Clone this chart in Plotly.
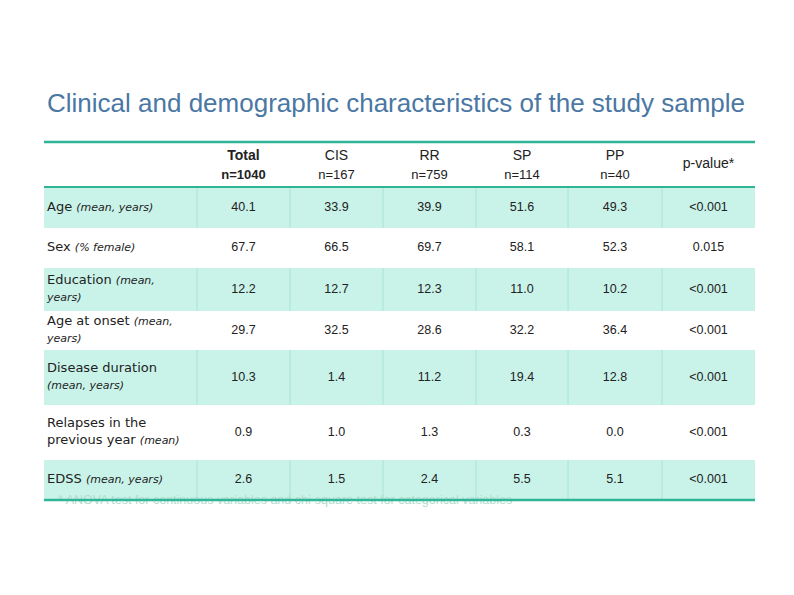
import plotly.graph_objects as go

# Table content
title = "Clinical and demographic characteristics of the study sample"
groups = ["Total", "CIS", "RR", "SP", "PP"]
group_n = ["n=1040", "n=167", "n=759", "n=114", "n=40"]
p_header = "p-value*"

row_names = ["Age", "Sex", "Education", "Age at onset", "Disease duration<br>",
             "Relapses in the<br>previous year", "EDSS"]
row_notes = ["(mean, years)", "(% female)", "(mean,<br>years)", "(mean,<br>years)",
             "(mean, years)", "(mean)", "(mean, years)"]

total_vals = [40.1, 67.7, 12.2, 29.7, 10.3, 0.9, 2.6]
cis_vals = [33.9, 66.5, 12.7, 32.5, 1.4, 1.0, 1.5]
rr_vals = [39.9, 69.7, 12.3, 28.6, 11.2, 1.3, 2.4]
sp_vals = [51.6, 58.1, 11.0, 32.2, 19.4, 0.3, 5.5]
pp_vals = [49.3, 52.3, 10.2, 36.4, 12.8, 0.0, 5.1]
p_values = ["<0.001", "0.015", "<0.001", "<0.001", "<0.001", "<0.001", "<0.001"]

footnote = "* ANOVA test for continuous variables and chi-square test for categorical variables"

# Layout (pixel grid of the page; the page body adds an 8px margin)
col_edges = [44, 197, 290, 383, 476, 568, 662, 755]
header_top, header_bottom = 142, 187
row_edges = [187, 228, 268, 311, 350, 405, 460, 500]
OFF = 8

TEAL = "#2fb596"
FILL = "#c9f3e9"
VLINE = "#a9e2d3"
TEXT = "#222222"
FONT = "Liberation Sans, Arial, sans-serif"
LABEL_FONT = "DejaVu Sans, sans-serif"

fig = go.Figure()

row_mid = [(row_edges[i] + row_edges[i + 1]) / 2 for i in range(len(row_names))]

# striped row fills + vertical separators on shaded rows
shapes = []
for i in range(len(row_names)):
    if i % 2 == 0:
        shapes.append(dict(type="rect", x0=col_edges[0], x1=col_edges[-1],
                           y0=row_edges[i], y1=row_edges[i + 1],
                           fillcolor=FILL, line=dict(width=0), layer="below"))
        for xe in col_edges[1:-1]:
            shapes.append(dict(type="line", x0=xe, x1=xe,
                               y0=row_edges[i], y1=row_edges[i + 1],
                               line=dict(color=VLINE, width=1), layer="below"))

# teal rules
for yy, w in [(header_top, 2.5), (header_bottom, 2), (row_edges[-1], 2.5)]:
    shapes.append(dict(type="line", x0=col_edges[0], x1=col_edges[-1], y0=yy, y1=yy,
                       line=dict(color=TEAL, width=w), layer="above"))

# footnote (partly hidden behind the bottom rule)
fig.add_trace(go.Scatter(
    x=[col_edges[0] + 14], y=[row_edges[-1] + 1], text=[footnote],
    mode="text", textposition="middle right",
    textfont=dict(family=FONT, size=12.5, color="#b3dccf"), hoverinfo="skip",
))

# row labels
labels = []
for name, note in zip(row_names, row_notes):
    sep = "" if name.endswith("<br>") else " "
    labels.append(f"{name}{sep}<i><span style='font-size:11px'>{note}</span></i>")

fig.add_trace(go.Scatter(
    x=[col_edges[0] + 3] * len(labels), y=row_mid, text=labels,
    mode="text", textposition="middle right",
    textfont=dict(family=LABEL_FONT, size=13, color=TEXT), hoverinfo="skip",
))

# value columns
columns = [total_vals, cis_vals, rr_vals, sp_vals, pp_vals]
for j, vals in enumerate(columns):
    xc = (col_edges[j + 1] + col_edges[j + 2]) / 2
    fig.add_trace(go.Scatter(
        x=[xc] * len(vals), y=row_mid, text=[f"{v:.1f}" for v in vals],
        mode="text", textposition="middle center",
        textfont=dict(family=FONT, size=12.5, color=TEXT), hoverinfo="skip",
    ))

xc_p = (col_edges[-2] + col_edges[-1]) / 2
fig.add_trace(go.Scatter(
    x=[xc_p] * len(p_values), y=row_mid, text=p_values,
    mode="text", textposition="middle center",
    textfont=dict(family=FONT, size=12.5, color=TEXT), hoverinfo="skip",
))

# header
head_mid = (header_top + header_bottom) / 2
head_text = []
for j, (g, n) in enumerate(zip(groups, group_n)):
    if j == 0:
        head_text.append(f"<b>{g}<br><span style='font-size:13px'>{n}</span></b>")
    else:
        head_text.append(f"{g}<br><span style='font-size:13px'>{n}</span>")
head_x = [(col_edges[j + 1] + col_edges[j + 2]) / 2 for j in range(len(groups))]
fig.add_trace(go.Scatter(
    x=head_x, y=[head_mid + 1.5] * len(groups), text=head_text,
    mode="text", textposition="middle center",
    textfont=dict(family=FONT, size=14, color=TEXT), hoverinfo="skip",
))
fig.add_trace(go.Scatter(
    x=[xc_p], y=[head_mid], text=[p_header],
    mode="text", textposition="middle center",
    textfont=dict(family=FONT, size=14, color=TEXT), hoverinfo="skip",
))

fig.add_annotation(x=45, y=103, text=title, showarrow=False, xanchor="left",
                   yanchor="middle", font=dict(family=FONT, size=26, color="#4a77a4"))

fig.update_layout(
    width=794, height=595, margin=dict(l=0, r=0, t=0, b=0),
    paper_bgcolor="white", plot_bgcolor="white", showlegend=False,
    shapes=shapes,
    xaxis=dict(range=[OFF, 794 + OFF], visible=False, fixedrange=True),
    yaxis=dict(range=[595 + OFF, OFF], visible=False, fixedrange=True),
)

fig.write_html("out.html")
